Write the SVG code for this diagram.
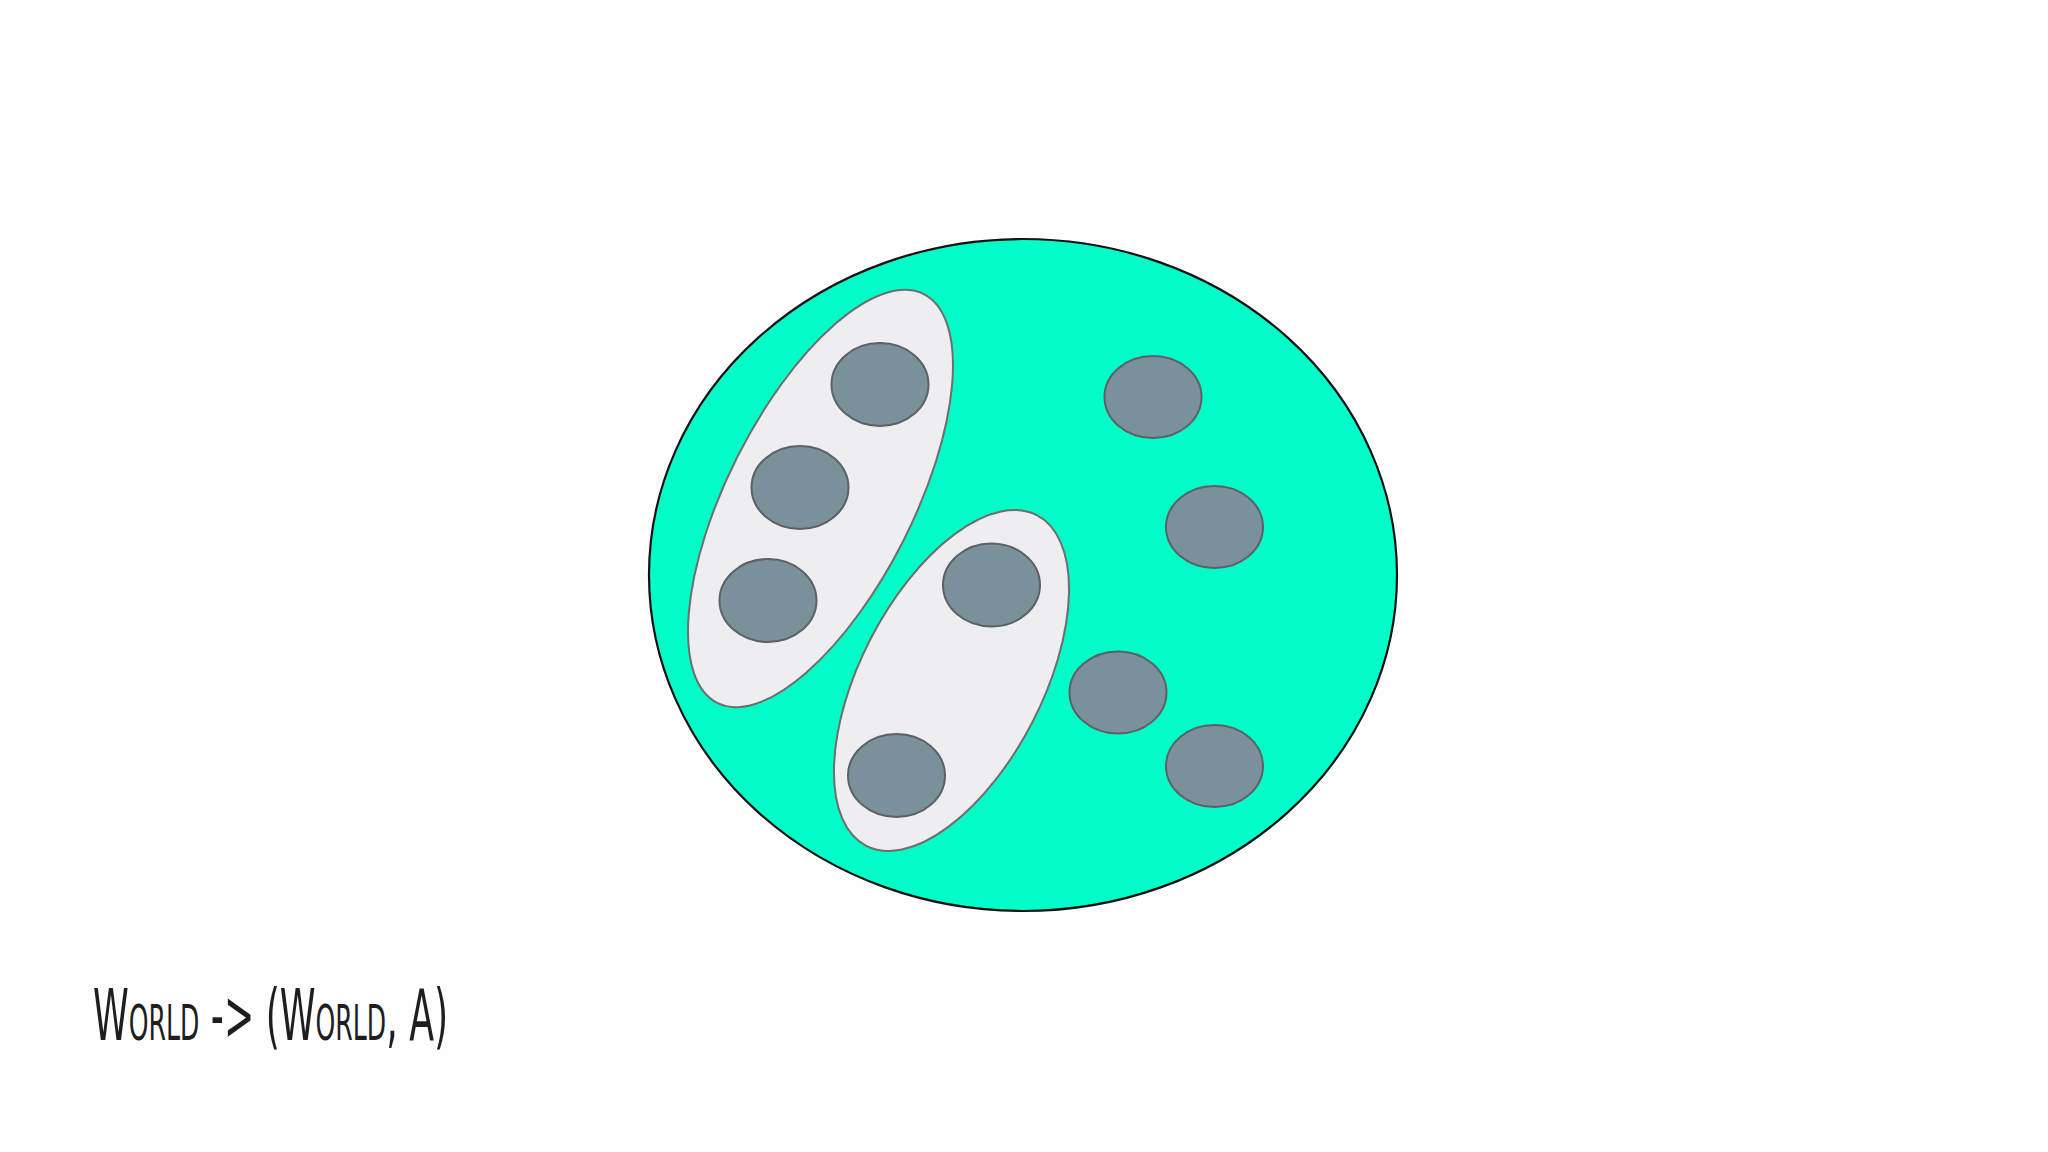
<svg xmlns="http://www.w3.org/2000/svg" width="2048" height="1152" viewBox="0 0 2048 1152">
<style>
.world{fill:#03fdc8;stroke:#111;stroke-width:2.2}
.group{fill:#eeeef0;stroke:#6e6e6e;stroke-width:2}
.item{fill:#7a909a;stroke:#5c6166;stroke-width:2}
.label{font-family:"Liberation Sans Narrow","DejaVu Sans Condensed","Liberation Sans",sans-serif;font-size:72px;font-variant:small-caps;fill:#1e1e1e}
</style>
<rect width="2048" height="1152" fill="#fefefe"/>
<g id="world">
<ellipse class="world" cx="1023" cy="575" rx="374" ry="336"/>
</g>
<g id="group1">
<ellipse class="group" cx="820.5" cy="498.5" rx="229" ry="93" transform="rotate(-63.2 820.5 498.5)"/>
</g>
<g id="group2">
<ellipse class="group" cx="951.5" cy="680.5" rx="186" ry="91" transform="rotate(-62.7 951.5 680.5)"/>
</g>
<g id="item1"><ellipse class="item" cx="880" cy="384.5" rx="48.5" ry="41.5"/></g>
<g id="item2"><ellipse class="item" cx="800" cy="487.5" rx="48.5" ry="41.5"/></g>
<g id="item3"><ellipse class="item" cx="768" cy="600.5" rx="48.5" ry="41.5"/></g>
<g id="item4"><ellipse class="item" cx="991.5" cy="585" rx="48.5" ry="41.5"/></g>
<g id="item5"><ellipse class="item" cx="896.5" cy="775.5" rx="48.5" ry="41.5"/></g>
<g id="item6"><ellipse class="item" cx="1153" cy="397" rx="48.5" ry="41"/></g>
<g id="item7"><ellipse class="item" cx="1214.5" cy="527" rx="48.5" ry="41"/></g>
<g id="item8"><ellipse class="item" cx="1118" cy="692.5" rx="48.5" ry="41"/></g>
<g id="item9"><ellipse class="item" cx="1214.5" cy="766" rx="48.5" ry="41"/></g>
<g id="connectors"></g>
<g id="caption">
<text class="label" x="93" y="1040" textLength="355" lengthAdjust="spacingAndGlyphs">World -&gt; (World, A)</text>
</g>
</svg>
